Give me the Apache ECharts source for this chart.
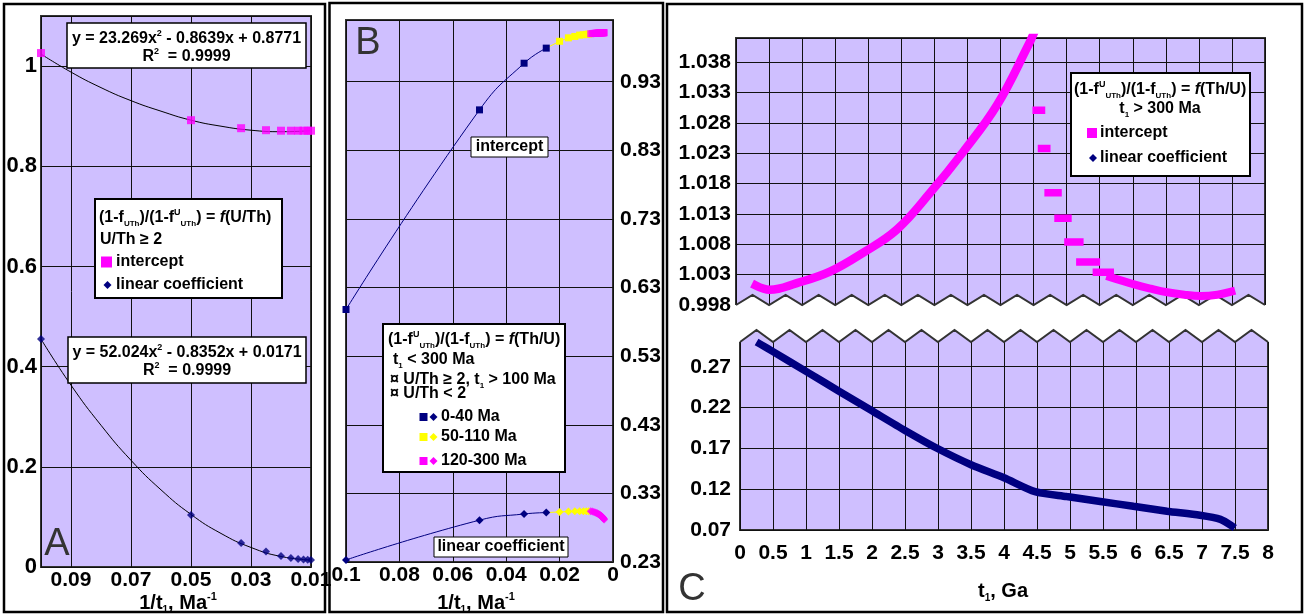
<!DOCTYPE html>
<html>
<head>
<meta charset="utf-8">
<title>chart</title>
<script src="https://cdn.jsdelivr.net/npm/echarts@6.0.0/dist/echarts.min.js"></script>
<style>
html,body{margin:0;padding:0;background:#ffffff;}
#chart{width:1307px;height:616px;}
</style>
</head>
<body>
<div id="chart"></div>
<script>
// ================= DATA =================
// Panel A  (x = 1/t1, Ma^-1)
const aX = [0.1, 0.05, 0.0333, 0.025, 0.02, 0.0167, 0.0143, 0.0125, 0.0111, 0.01];
const aIntercept = [1.026, 0.892, 0.876, 0.872, 0.871, 0.871, 0.871, 0.871, 0.871, 0.871];
const aLinear = [0.455, 0.104, 0.048, 0.031, 0.022, 0.018, 0.016, 0.015, 0.0145, 0.014];
// polynomial trend curves
const aTrendX = [0.1, 0.09, 0.08, 0.07, 0.06, 0.05, 0.04, 0.03, 0.02, 0.01];
const aTrendIntercept = [1.024, 0.988, 0.957, 0.931, 0.910, 0.892, 0.880, 0.872, 0.869, 0.871];
const aTrendLinear = [0.455, 0.363, 0.283, 0.213, 0.154, 0.105, 0.067, 0.039, 0.021, 0.014];

// Panel B  (x = 1/t1, Ma^-1)
const bNavyX = [0.1, 0.05, 0.0333, 0.025];
const bNavyIntercept = [0.598, 0.889, 0.957, 0.979];
const bNavyLinear = [0.233, 0.291, 0.300, 0.302];
const bYellowX = [0.02, 0.0167, 0.0143, 0.0125, 0.0111, 0.01, 0.0091];
const bYellowIntercept = [0.989, 0.994, 0.996, 0.998, 0.9985, 0.999, 0.9995];
const bYellowLinear = [0.303, 0.3035, 0.304, 0.304, 0.304, 0.304, 0.304];
const bMagentaX = [0.00833, 0.00769, 0.00714, 0.00667, 0.00625, 0.00588, 0.00556, 0.00526, 0.005, 0.00476,
                   0.00455, 0.00435, 0.00417, 0.004, 0.00385, 0.0037, 0.00357, 0.00345, 0.00333];
const bMagentaIntercept = [1.0, 1.0003, 1.0005, 1.0007, 1.0008, 1.0009, 1.001, 1.0011, 1.0012, 1.0012,
                           1.0013, 1.0013, 1.0014, 1.0014, 1.0014, 1.0015, 1.0015, 1.0015, 1.0015];
const bMagentaLinear = [0.304, 0.3035, 0.303, 0.302, 0.3015, 0.301, 0.300, 0.2995, 0.299, 0.298,
                        0.2975, 0.297, 0.296, 0.2955, 0.295, 0.294, 0.2935, 0.293, 0.292];

// Panel C  (x = t1, Ga)
const cInterceptT = [0.3, 0.51, 0.92, 1.42, 1.92, 2.43, 2.93, 3.44, 3.95, 4.42, 4.52];
const cInterceptValue = [1.0012, 1.0005, 1.0016, 1.0035, 1.0066, 1.0104, 1.0164, 1.0233, 1.0310, 1.0408, 1.0432];
const cStepStart = [4.54, 4.62, 4.72, 4.87, 5.02, 5.20, 5.45];
const cStepEnd   = [4.62, 4.70, 4.87, 5.02, 5.20, 5.45, 5.66];
const cStepValue = [1.0301, 1.0238, 1.0165, 1.0123, 1.0084, 1.0051, 1.0034];
const cTailT = [5.66, 6.02, 6.27, 6.52, 6.78, 7.03, 7.28, 7.49];
const cTailValue = [1.0026, 1.0014, 1.0007, 1.0001, 0.9997, 0.9995, 0.9997, 1.0002];
const cLinearT = [0.3, 0.5, 1.0, 1.5, 2.0, 2.5, 3.0, 3.5, 4.0, 4.47, 4.95, 5.46, 5.96, 6.47, 6.97, 7.28, 7.45];
const cLinearValue = [0.298, 0.2885, 0.2643, 0.240, 0.216, 0.192, 0.1695, 0.150, 0.134, 0.117, 0.111, 0.105, 0.099, 0.093, 0.088, 0.083, 0.075];

// Tick labels
const aXTicks = [0.09, 0.07, 0.05, 0.03, 0.01];
const aYTicks = [0, 0.2, 0.4, 0.6, 0.8, 1];
const bXTicks = [0.1, 0.08, 0.06, 0.04, 0.02, 0];
const bYTicks = [0.23, 0.33, 0.43, 0.53, 0.63, 0.73, 0.83, 0.93];
const cTopYTicks = [0.998, 1.003, 1.008, 1.013, 1.018, 1.023, 1.028, 1.033, 1.038];
const cBottomYTicks = [0.07, 0.12, 0.17, 0.22, 0.27];
const cXTicks = [0, 0.5, 1, 1.5, 2, 2.5, 3, 3.5, 4, 4.5, 5, 5.5, 6, 6.5, 7, 7.5, 8];

// ================= STYLE =================
const F = '"Liberation Sans", Arial, sans-serif';
const LAV = '#CFBFFF';
const NAVY = '#000080';
const MAG = '#FF00FF';
const YEL = '#FFFF00';
const GRIDLINE = '#111111';
const BORDER = '#333333';

const zip = (xs, ys) => xs.map((x, i) => [x, ys[i]]);
function tickFmt(ticks, dec) {
  return function (v) {
    const m = ticks.find(t => Math.abs(t - v) < 1e-7);
    if (m === undefined) return '';
    return dec == null ? String(m) : m.toFixed(dec);
  };
}
function valAxis(gridIndex, extra, label) {
  return Object.assign({
    type: 'value', gridIndex: gridIndex,
    axisLine: { show: false }, axisTick: { show: false },
    splitLine: { show: true, lineStyle: { color: GRIDLINE, width: 1 } },
    axisLabel: Object.assign({ fontFamily: F, fontWeight: 'bold', fontSize: 21, color: '#000' }, label || {})
  }, extra);
}

const chart = echarts.init(document.getElementById('chart'), null, { renderer: 'canvas' });

const grids = [
  { left: 41, top: 16, width: 270, height: 551 },
  { left: 346, top: 20, width: 267, height: 542 },
  { left: 736, top: 38, width: 529, height: 267 },
  { left: 740, top: 330, width: 528, height: 200 }
].map(g => Object.assign({ show: true, backgroundColor: LAV, borderColor: BORDER, borderWidth: 2, containLabel: false, outerBoundsMode: 'none' }, g));

const xAxes = [
  valAxis(0, { min: 0.01, max: 0.1, interval: 0.02, inverse: true }, { margin: 3, formatter: tickFmt(aXTicks) }),
  valAxis(1, { min: 0, max: 0.1, interval: 0.02, inverse: true }, { margin: 3, formatter: tickFmt(bXTicks) }),
  valAxis(2, { min: 0, max: 8, interval: 0.5 }, { show: false }),
  valAxis(3, { min: 0, max: 8, interval: 0.5 }, { margin: 13, formatter: tickFmt(cXTicks) })
];
const yAxes = [
  valAxis(0, { min: 0, max: 1.1, interval: 0.2 }, { margin: 4, fontSize: 22, formatter: tickFmt(aYTicks) }),
  valAxis(1, { min: 0.23, max: 1.02, interval: 0.1, position: 'right' }, { margin: 7, formatter: tickFmt(bYTicks, 2) }),
  valAxis(2, { min: 0.998, max: 1.042, interval: 0.005 }, { margin: 5, formatter: tickFmt(cTopYTicks, 3) }),
  valAxis(3, { min: 0.07, max: 0.315, interval: 0.05 }, { margin: 9, formatter: tickFmt(cBottomYTicks, 2) })
];

// step segments separated by gaps
const cStepData = [];
cStepStart.forEach((s, i) => {
  cStepData.push([s, cStepValue[i]], [cStepEnd[i], cStepValue[i]], ['-', '-']);
});

const series = [
  // ---- A
  { type: 'line', xAxisIndex: 0, yAxisIndex: 0, data: zip(aTrendX, aTrendIntercept), symbol: 'none', smooth: true,
    lineStyle: { color: '#000', width: 1 }, z: 2 },
  { type: 'line', xAxisIndex: 0, yAxisIndex: 0, data: zip(aTrendX, aTrendLinear), symbol: 'none', smooth: true,
    lineStyle: { color: '#000', width: 1 }, z: 2 },
  { type: 'scatter', xAxisIndex: 0, yAxisIndex: 0, data: zip(aX, aIntercept), symbol: 'rect', symbolSize: 8,
    itemStyle: { color: MAG }, z: 3 },
  { type: 'scatter', xAxisIndex: 0, yAxisIndex: 0, data: zip(aX, aLinear), symbol: 'diamond', symbolSize: 8,
    itemStyle: { color: NAVY }, z: 3 },
  // ---- B intercept
  { type: 'line', xAxisIndex: 1, yAxisIndex: 1, data: zip(bNavyX, bNavyIntercept), symbol: 'rect', symbolSize: 7, smooth: true,
    showAllSymbol: true, lineStyle: { color: NAVY, width: 1 }, itemStyle: { color: NAVY }, z: 3 },
  { type: 'line', xAxisIndex: 1, yAxisIndex: 1,
    data: [{ value: [bNavyX[bNavyX.length - 1], bNavyIntercept[bNavyIntercept.length - 1]], symbol: 'none' }].concat(zip(bYellowX, bYellowIntercept)),
    symbol: 'rect', symbolSize: 7, showAllSymbol: true, lineStyle: { color: YEL, width: 1 }, itemStyle: { color: YEL }, z: 3 },
  { type: 'scatter', xAxisIndex: 1, yAxisIndex: 1, data: zip(bMagentaX, bMagentaIntercept), symbol: 'rect', symbolSize: 7,
    itemStyle: { color: MAG }, z: 4 },
  // ---- B linear
  { type: 'line', xAxisIndex: 1, yAxisIndex: 1, data: zip(bNavyX, bNavyLinear), symbol: 'diamond', symbolSize: 8, smooth: true,
    showAllSymbol: true, lineStyle: { color: NAVY, width: 1 }, itemStyle: { color: NAVY }, z: 3 },
  { type: 'line', xAxisIndex: 1, yAxisIndex: 1,
    data: [{ value: [bNavyX[bNavyX.length - 1], bNavyLinear[bNavyLinear.length - 1]], symbol: 'none' }].concat(zip(bYellowX, bYellowLinear)),
    symbol: 'diamond', symbolSize: 8, showAllSymbol: true, lineStyle: { color: YEL, width: 1 }, itemStyle: { color: YEL }, z: 3 },
  { type: 'scatter', xAxisIndex: 1, yAxisIndex: 1, data: zip(bMagentaX, bMagentaLinear), symbol: 'diamond', symbolSize: 8,
    itemStyle: { color: MAG }, z: 4 },
  // ---- C top
  { type: 'line', xAxisIndex: 2, yAxisIndex: 2, data: zip(cInterceptT, cInterceptValue), symbol: 'none', smooth: 0.4, clip: true,
    lineStyle: { color: MAG, width: 8.5, cap: 'square' }, z: 3 },
  { type: 'line', xAxisIndex: 2, yAxisIndex: 2, data: cStepData, symbol: 'none', connectNulls: false, clip: true,
    lineStyle: { color: MAG, width: 7.5, cap: 'square' }, z: 3 },
  { type: 'line', xAxisIndex: 2, yAxisIndex: 2, data: zip(cTailT, cTailValue), symbol: 'none', smooth: 0.4, clip: true,
    lineStyle: { color: MAG, width: 8, cap: 'square' }, z: 3 },
  // ---- C bottom
  { type: 'line', xAxisIndex: 3, yAxisIndex: 3, data: zip(cLinearT, cLinearValue), symbol: 'none', smooth: 0.25, clip: true,
    lineStyle: { color: NAVY, width: 7.5, cap: 'square' }, z: 3 }
];

chart.setOption({
  animation: false,
  backgroundColor: '#ffffff',
  textStyle: { fontFamily: F },
  grid: grids,
  xAxis: xAxes,
  yAxis: yAxes,
  series: series
});

// ================= ANNOTATIONS =================
const RICH = {
  b: { fontSize: 16, fontWeight: 'bold', fontFamily: F, fill: '#000', lineHeight: 20 },
  i: { fontSize: 16, fontWeight: 'bold', fontStyle: 'italic', fontFamily: F, fill: '#000', lineHeight: 20 },
  sub: { fontSize: 8, fontWeight: 'bold', fontFamily: F, fill: '#000', verticalAlign: 'bottom' },
  sup: { fontSize: 9, fontWeight: 'bold', fontFamily: F, fill: '#000', verticalAlign: 'top' }
};
const RICH_AX = {
  n: { fontSize: 20, fontWeight: 'bold', fontFamily: F, fill: '#000', lineHeight: 24 },
  s: { fontSize: 10, fontWeight: 'bold', fontFamily: F, fill: '#000', verticalAlign: 'bottom' },
  p: { fontSize: 11, fontWeight: 'bold', fontFamily: F, fill: '#000', verticalAlign: 'top' }
};
function txt(x, y, text, align, rich) {
  return { type: 'text', x: x, y: y, z: 20, silent: true,
    style: { text: text, rich: rich || RICH, align: align || 'left', verticalAlign: 'middle', fill: '#000',
      font: 'bold 16px ' + F } };
}
function box(x, y, w, h, lw) {
  return { type: 'rect', z: 19, silent: true, shape: { x: x, y: y, width: w, height: h },
    style: { fill: '#fff', stroke: '#000', lineWidth: lw || 1.5 } };
}
function sq(cx, cy, size, color) {
  return { type: 'rect', z: 21, silent: true, shape: { x: cx - size / 2, y: cy - size / 2, width: size, height: size },
    style: { fill: color } };
}
function dia(cx, cy, size, color) {
  const h = size / 2;
  return { type: 'polygon', z: 21, silent: true, shape: { points: [[cx, cy - h], [cx + h, cy], [cx, cy + h], [cx - h, cy]] },
    style: { fill: color } };
}
function frame(x, y, w, h) {
  return { type: 'rect', z: 22, silent: true, shape: { x: x, y: y, width: w, height: h },
    style: { fill: 'none', stroke: '#000', lineWidth: 2.5 } };
}
function letter(x, y, t) {
  return { type: 'text', x: x, y: y, z: 20, silent: true,
    style: { text: t, align: 'center', verticalAlign: 'middle', fill: '#333', font: '38px ' + F } };
}

const g = [];
// panel frames
g.push(frame(4, 4, 321, 608), frame(329.5, 3, 333.5, 609), frame(667, 4, 635, 608));
// panel letters
g.push(letter(57, 545, 'A'), letter(368, 44, 'B'), letter(692, 590, 'C'));
// axis names
g.push(txt(178, 603, '{n|1/t}{s|1}{n|, Ma}{p|-1}', 'center', RICH_AX));
g.push(txt(476, 603, '{n|1/t}{s|1}{n|, Ma}{p|-1}', 'center', RICH_AX));
g.push(txt(1003, 591, '{n|t}{s|1}{n|, Ga}', 'center', RICH_AX));

// Panel A: equation boxes
g.push(box(67, 23, 239, 45));
g.push(txt(186.5, 39, '{b|y = 23.269x}{sup|2}{b| - 0.8639x + 0.8771}', 'center'));
g.push(txt(186.5, 57, '{b|R}{sup|2}{b|  = 0.9999}', 'center'));
g.push(box(68, 337, 238, 46));
g.push(txt(187, 353, '{b|y = 52.024x}{sup|2}{b| - 0.8352x + 0.0171}', 'center'));
g.push(txt(187, 371, '{b|R}{sup|2}{b|  = 0.9999}', 'center'));
// Panel A: legend
g.push(box(95, 199, 187, 99, 2));
g.push(txt(99, 218, '{b|(1-f}{sub|UTh}{b|)/(1-f}{sup|U}{sub|UTh}{b|) = }{i|f}{b|(U/Th)}'));
g.push(txt(100, 240, '{b|U/Th ≥ 2}'));
g.push(sq(106.5, 262, 11, MAG));
g.push(txt(116, 262, '{b|intercept}'));
g.push(dia(107.5, 285, 8, NAVY));
g.push(txt(116, 285, '{b|linear coefficient}'));

// Panel B: labels
g.push(box(471, 137, 77, 20, 1));
g.push(txt(509.5, 147, '{b|intercept}', 'center'));
g.push(box(434, 537, 134, 20, 1));
g.push(txt(501, 547, '{b|linear coefficient}', 'center'));
// Panel B: legend
g.push(box(383, 324, 182, 148, 2));
g.push(txt(388, 340, '{b|(1-f}{sup|U}{sub|UTh}{b|)/(1-f}{sub|UTh}{b|) = }{i|f}{b|(Th/U)}'));
g.push(txt(393, 360, '{b|t}{sub|1}{b| < 300 Ma}'));
g.push(txt(390, 380, '{b|¤ U/Th ≥ 2, t}{sub|1}{b| > 100 Ma}'));
g.push(txt(390, 394, '{b|¤ U/Th < 2}'));
[[417, NAVY, '0-40 Ma'], [437, YEL, '50-110 Ma'], [461, MAG, '120-300 Ma']].forEach(r => {
  g.push(sq(423.5, r[0], 8, r[1]), dia(433.5, r[0], 8, r[1]), txt(441, r[0], '{b|' + r[2] + '}'));
});

// Panel C: legend
g.push(box(1071, 73, 179, 103, 2));
g.push(txt(1074, 90, '{b|(1-f}{sup|U}{sub|UTh}{b|)/(1-f}{sub|UTh}{b|) = }{i|f}{b|(Th/U)}'));
g.push(txt(1160, 109, '{b|t}{sub|1}{b| > 300 Ma}', 'center'));
g.push(sq(1092, 133, 10, MAG));
g.push(txt(1100, 133, '{b|intercept}'));
g.push(dia(1093, 158, 8, NAVY));
g.push(txt(1100, 158, '{b|linear coefficient}'));

// Panel C: axis-break zigzags, placed through the axes
function zig(gridIdx, yVal, dir) {
  const pts = [];
  for (let k = 0; k <= 16; k++) {
    const t = k * 0.5;
    const p = chart.convertToPixel({ xAxisIndex: gridIdx, yAxisIndex: gridIdx }, [t, yVal]);
    pts.push([p[0], p[1]]);
    if (k < 16) {
      const q = chart.convertToPixel({ xAxisIndex: gridIdx, yAxisIndex: gridIdx }, [t + 0.25, yVal]);
      pts.push([q[0], q[1] + dir]);
    }
  }
  return pts;
}
// top chart: zigzag along bottom edge, teeth pointing up
const zTop = zig(2, 0.998, -10);
const yb = zTop[0][1];
g.push({ type: 'polygon', z: 1, silent: true,
  shape: { points: [[zTop[0][0] - 3, yb + 4], [zTop[0][0] - 3, yb]].concat(zTop).concat([[zTop[zTop.length - 1][0] + 3, yb], [zTop[zTop.length - 1][0] + 3, yb + 4]]) },
  style: { fill: '#fff' } });
g.push({ type: 'polyline', z: 1, silent: true, shape: { points: zTop }, style: { stroke: BORDER, lineWidth: 2, fill: null } });
// bottom chart: zigzag along top edge
const zBotPeaks = zig(3, 0.315, 0);
const yt = zBotPeaks[0][1];
const zBot = zBotPeaks.map((p, i) => (i % 2 === 0 ? [p[0], p[1] + 12] : [p[0], p[1]]));
g.push({ type: 'polygon', z: 1, silent: true,
  shape: { points: [[zBot[0][0] - 3, yt - 4], [zBot[0][0] - 3, yt + 12]].concat(zBot).concat([[zBot[zBot.length - 1][0] + 3, yt + 12], [zBot[zBot.length - 1][0] + 3, yt - 4]]) },
  style: { fill: '#fff' } });
g.push({ type: 'polyline', z: 1, silent: true, shape: { points: zBot }, style: { stroke: BORDER, lineWidth: 2, fill: null } });

chart.setOption({ graphic: g });
</script>
</body>
</html>
